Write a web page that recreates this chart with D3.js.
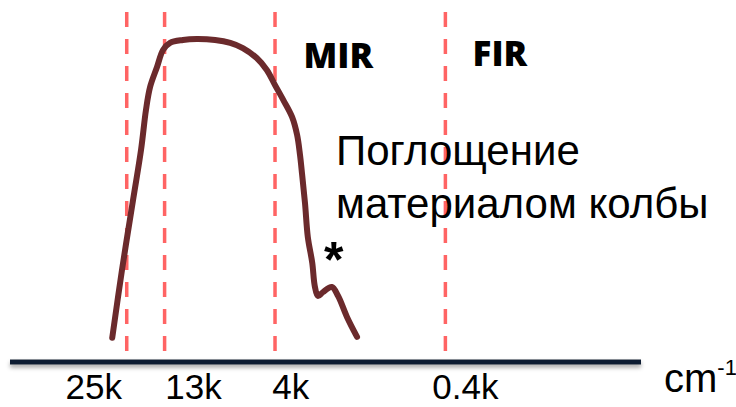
<!DOCTYPE html>
<html><head><meta charset="utf-8">
<script src="https://cdn.jsdelivr.net/npm/d3@7"></script>
<style>html,body{margin:0;padding:0;background:#fff;}svg{display:block;}</style>
</head><body>
<script>
// Data (x in arbitrary position units 0..100 along the axis, y in relative intensity 0..100)
const curveX = [16.2, 17.75, 19.5, 20.76, 21.55, 22.2, 23.3, 24.25, 25.36, 27.4, 29.6, 32.5, 34.9, 36.9, 39.1, 40.7, 42.0, 43.3, 44.7, 45.5, 45.96, 46.3, 46.75, 47.2, 47.9, 48.3, 48.8, 49.6, 51.0, 52.0, 53.4, 55.0];
const curveY = [7.5, 28.6, 50.3, 65.8, 78.3, 85.4, 91.6, 96.9, 99.1, 100.0, 100.3, 100.0, 99.1, 97.5, 94.4, 90.7, 86.0, 81.4, 76.1, 70.5, 64.3, 58.1, 49.4, 38.8, 30.8, 23.6, 20.5, 21.7, 23.3, 20.5, 14.0, 7.8];
const boundaryPos = [18.5, 24.5, 42.0, 69.0];
const tickLabels = ["25k", "13k", "4k", "0.4k"];
const tickLabelPos = [13.2, 29.0, 44.4, 72.1];
const regionLabels = ["MIR", "FIR"];
const regionLabelPos = [46.5, 73.3];
const noteLines = ["Поглощение", "материалом колбы"];
const unitLabel = "cm";
const unitSup = "-1";

const W = 736, H = 407;
const svg = d3.select("body").append("svg").attr("width", W).attr("height", H);
const x = d3.scaleLinear().domain([0, 100]).range([10, 641]);
const y = d3.scaleLinear().domain([0, 100]).range([362, 40]);

const defs = svg.append("defs");
const f = defs.append("filter").attr("id", "sh").attr("filterUnits", "userSpaceOnUse")
  .attr("x", 0).attr("y", 340).attr("width", W).attr("height", 40);
f.append("feDropShadow").attr("dx", 0).attr("dy", 3).attr("stdDeviation", 2)
  .attr("flood-color", "#000").attr("flood-opacity", 0.35);

// dashed boundaries
svg.selectAll("line.b").data(boundaryPos).enter().append("line")
  .attr("class", "b")
  .attr("x1", d => x(d)).attr("x2", d => x(d))
  .attr("y1", 12).attr("y2", 360)
  .attr("stroke", "#ff6464").attr("stroke-width", 3.5)
  .attr("stroke-dasharray", "15 12");

// baseline
svg.append("rect").attr("x", x(0)).attr("width", x(100) - x(0))
  .attr("y", y(0) - 2.5).attr("height", 5)
  .attr("fill", "#0f1f33").attr("filter", "url(#sh)");

// axis labels
const ax = svg.append("g").attr("transform", `translate(0,${y(0)})`)
  .call(d3.axisBottom(x).tickValues(tickLabelPos).tickSize(0).tickPadding(0)
    .tickFormat((d, i) => tickLabels[i]));
ax.select(".domain").remove();
ax.selectAll("text").attr("font-family", "'Liberation Sans', Arial, sans-serif")
  .attr("font-size", 35).attr("fill", "#000").attr("dy", null).attr("y", 37);

// curve
const pts = curveX.map((d, i) => [x(d), y(curveY[i])]);
svg.append("path").attr("d", d3.line().curve(d3.curveCatmullRom.alpha(0.5))(pts))
  .attr("fill", "none").attr("stroke", "#6b2a2c").attr("stroke-width", 6)
  .attr("stroke-linecap", "round").attr("stroke-linejoin", "round");

// region labels
svg.selectAll("text.r").data(regionLabels).enter().append("text")
  .attr("class", "r")
  .attr("x", (d, i) => x(regionLabelPos[i])).attr("y", (d, i) => i === 0 ? 68 : 66)
  .attr("font-family", "'Open Sans', 'Liberation Sans', Arial, sans-serif")
  .attr("font-weight", 800).attr("font-size", 35).attr("fill", "#000")
  .text(d => d);

// note
const note = svg.append("text").attr("font-family", "'Liberation Sans', Arial, sans-serif")
  .attr("font-size", 42).attr("fill", "#000");
noteLines.forEach((t, i) => note.append("tspan").attr("x", 336).attr("y", 165 + i * 53).text(t));

// asterisk
svg.append("text").attr("x", 324).attr("y", 277)
  .attr("font-family", "'Liberation Sans', Arial, sans-serif").attr("font-weight", "bold")
  .attr("font-size", 50).attr("fill", "#000").text("*");

// unit
const u = svg.append("text").attr("x", 664).attr("y", 392)
  .attr("font-family", "'Liberation Sans', Arial, sans-serif").attr("font-size", 40).attr("fill", "#000");
u.append("tspan").text(unitLabel);
u.append("tspan").attr("font-size", 22).attr("dy", -17).text(unitSup);
</script>
</body></html>
